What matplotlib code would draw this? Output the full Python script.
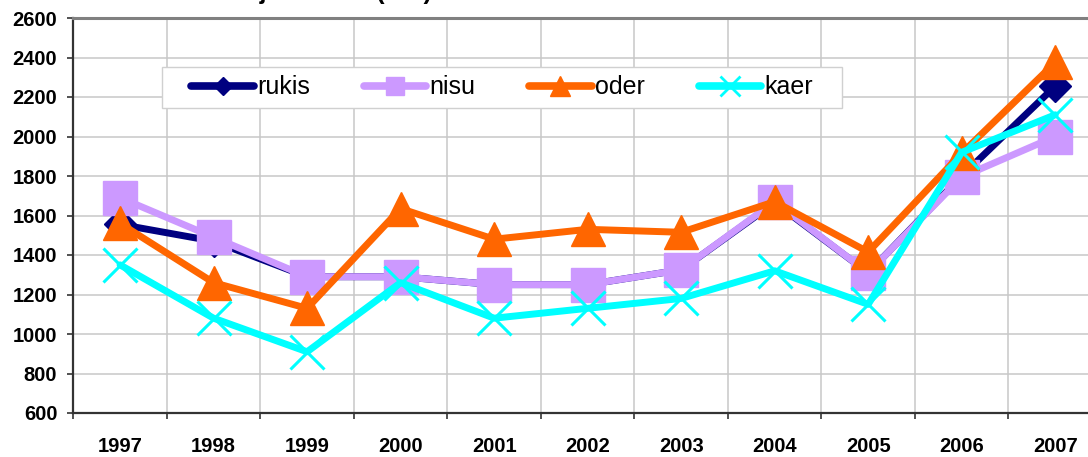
import numpy as np
import matplotlib
matplotlib.use("Agg")
import matplotlib.pyplot as plt
from matplotlib.lines import Line2D
from matplotlib.patches import Rectangle

years = ["1997", "1998", "1999", "2000", "2001", "2002", "2003", "2004", "2005", "2006", "2007"]
rukis = [1555, 1470, 1290, 1290, 1250, 1250, 1325, 1665, 1310, 1800, 2255]
nisu = [1690, 1490, 1290, 1290, 1250, 1250, 1325, 1670, 1310, 1795, 2000]
oder = [1560, 1260, 1130, 1635, 1480, 1530, 1515, 1670, 1415, 1915, 2375]
kaer = [1350, 1080, 910, 1260, 1080, 1130, 1180, 1320, 1150, 1920, 2110]
series_names = ["rukis", "nisu", "oder", "kaer"]
yticks = [600, 800, 1000, 1200, 1400, 1600, 1800, 2000, 2200, 2400, 2600]
title_text = "Teravilja hinnad (kr/t)"

colors = ["#000080", "#CC99FF", "#FF6600", "#00FFFF"]
markers = ["D", "s", "^", "x"]
msizes = [16, 24, 25, 25]
leg_msizes = [9, 13, 14, 14]

plt.rcParams["font.family"] = ["Liberation Sans", "DejaVu Sans"]

W, H = 1088, 457
fig = plt.figure(figsize=(W / 100, H / 100), dpi=100)
left_px, right_px, top_px, bottom_px = 73.3, 1102.0, 18.0, 413.0
ax = fig.add_axes([left_px / W, 1 - bottom_px / H, (right_px - left_px) / W, (bottom_px - top_px) / H])

x = np.arange(len(years))
data = [rukis, nisu, oder, kaer]
for i, (vals, c, m, ms) in enumerate(zip(data, colors, markers, msizes)):
    ax.plot(x, vals, color=c, lw=5, marker=m, ms=ms, mfc=c, mec=c,
            mew=2.2 if m == "x" else 1, solid_joinstyle="round",
            solid_capstyle="round", zorder=3 + i, clip_on=False)

ax.set_xlim(-0.5, len(years) - 0.5)
ax.set_ylim(600, 2600)
ax.set_yticks(yticks)
ax.set_yticklabels([str(v) for v in yticks], fontsize=14.5, fontweight="bold")
ax.set_xticks(x)
ax.set_xticklabels(years, fontsize=14.5, fontweight="bold")
ax.set_xticks(np.arange(-0.5, len(years), 1.0), minor=True)
ax.tick_params(axis="x", which="major", length=0, pad=17)
ax.tick_params(axis="x", which="minor", length=4.5, width=1.2, color="#333333", direction="out")
ax.tick_params(axis="y", which="major", length=4.5, width=1.2, color="#333333", pad=7)

ax.grid(True, axis="y", which="major", color="#C8C8C8", lw=1.1, zorder=0)
ax.grid(True, axis="x", which="minor", color="#C8C8C8", lw=1.1, zorder=0)
ax.set_axisbelow(True)

for s in ["left", "bottom"]:
    ax.spines[s].set_color("#333333")
    ax.spines[s].set_linewidth(1.6)
ax.spines["top"].set_color("#808080")
ax.spines["top"].set_linewidth(2.2)
ax.spines["right"].set_visible(False)

# title (cropped at the top edge in the reference: only descenders show)
fig.text(181 / W, 1 + 1.5 / H, title_text, fontsize=18, fontweight="bold",
         ha="left", va="baseline")

# legend box
rect = Rectangle((162 / W, 1 - 108 / H), 680 / W, 41 / H, transform=fig.transFigure,
                 facecolor="white", edgecolor="#D0D0D0", lw=1.0, zorder=10)
fig.add_artist(rect)
handles = [Line2D([], [], color=c, lw=5.5, marker=m, ms=ms, mfc=c, mec=c,
                  mew=2 if m == "x" else 1, solid_capstyle="round")
           for c, m, ms in zip(colors, markers, leg_msizes)]
leg = fig.legend(handles, series_names, loc="center", bbox_to_anchor=(502 / W, 1 - 87.5 / H),
                 ncol=4, frameon=False, fontsize=18, handlelength=2.5, handletextpad=0.12,
                 columnspacing=2.16, borderpad=0)
leg.set_zorder(11)

fig.savefig("out.png", dpi=100)
